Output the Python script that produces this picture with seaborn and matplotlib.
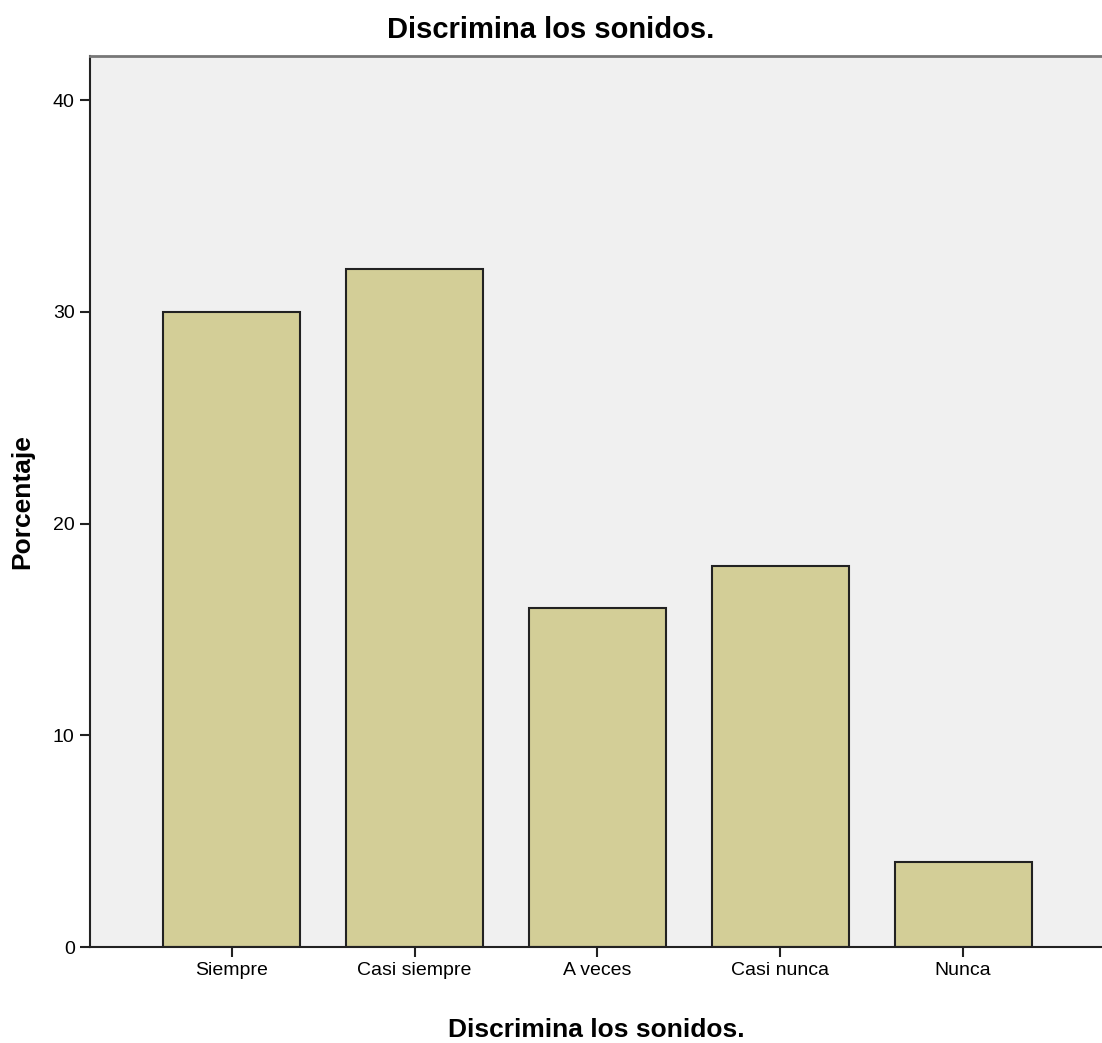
import pandas as pd
import seaborn as sns
import matplotlib.pyplot as plt

# Data
categories = ["Siempre", "Casi siempre", "A veces", "Casi nunca", "Nunca"]
porcentaje = [30, 32, 16, 18, 4]
y_ticks = [0, 10, 20, 30, 40]

df = pd.DataFrame({"categoria": categories, "porcentaje": porcentaje})

sns.set_theme(style="white")
plt.rcParams['font.family'] = ['Liberation Sans', 'DejaVu Sans']
plt.rcParams['text.color'] = 'black'
plt.rcParams['axes.labelcolor'] = 'black'
plt.rcParams['xtick.color'] = 'black'
plt.rcParams['ytick.color'] = 'black'

fig = plt.figure(figsize=(11.02, 10.43), dpi=100)
ax = fig.add_axes([90 / 1102, 1 - 947 / 1043, 1 - 90 / 1102, (947 - 56) / 1043])
ax.set_facecolor('#f0f0f0')

sns.barplot(data=df, x="categoria", y="porcentaje", order=categories,
            color='#d3ce97', saturation=1, width=0.75,
            edgecolor='#222222', linewidth=1.5, ax=ax)

ax.set_xlim(-0.776, 4.76)
ax.set_ylim(0, 42.08)
ax.set_yticks(y_ticks)
ax.set_yticklabels([str(t) for t in y_ticks], fontsize=14)
ax.set_xticks(range(len(categories)))
ax.set_xticklabels(categories, fontsize=14)
ax.tick_params(axis='both', which='both', direction='out', length=7, width=1.5,
               color='#222222', pad=4, bottom=True, left=True)

for side in ['left', 'bottom']:
    ax.spines[side].set_color('#222222')
    ax.spines[side].set_linewidth(1.5)
ax.spines['top'].set_color('#777777')
ax.spines['top'].set_linewidth(2)
ax.spines['right'].set_visible(False)

ax.set_xlabel("Discrimina los sonidos.", fontsize=19, fontweight='bold', labelpad=28)
ax.set_ylabel("")
fig.text(22 / 1102, 1 - 502 / 1043, "Porcentaje", rotation=90, ha='center', va='center',
         fontsize=19, fontweight='bold')
fig.text(0.5, 1 - 30 / 1043, "Discrimina los sonidos.", ha='center', va='center',
         fontsize=21, fontweight='bold')

fig.savefig("out.png", dpi=100)
